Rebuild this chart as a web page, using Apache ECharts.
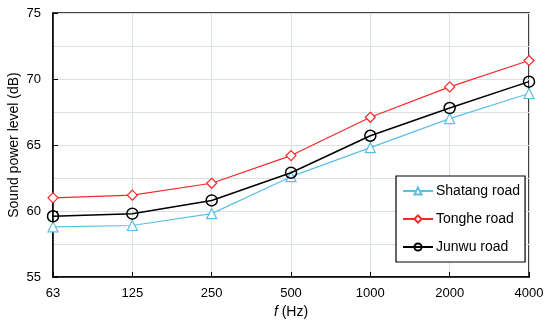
<!DOCTYPE html>
<html><head><meta charset="utf-8">
<script src="https://cdn.jsdelivr.net/npm/echarts@6/dist/echarts.min.js"></script>
<style>html,body{margin:0;padding:0;background:#fff}#c{width:550px;height:325px}</style>
</head><body><div id="c"></div>
<script>
const categories = ['63','125','250','500','1000','2000','4000'];
const shatang = [58.8, 58.9, 59.8, 62.6, 64.8, 67.0, 68.9];
const tonghe  = [61.0, 61.2, 62.1, 64.2, 67.1, 69.4, 71.4];
const junwu   = [59.6, 59.8, 60.8, 62.9, 65.7, 67.8, 69.8];
const yTicks = [55, 60, 65, 70, 75];

const font = 'Liberation Sans, Arial, sans-serif';
const chart = echarts.init(document.getElementById('c'), null, {renderer:'canvas'});
chart.setOption({
  animation:false,
  backgroundColor:'#fff',
  textStyle:{fontFamily:font},
  grid:{left:53,right:21,top:13,bottom:48,show:true,borderColor:'#000',borderWidth:1.5,
        backgroundColor:'transparent',containLabel:false,outerBoundsMode:'none'},
  legend:{
    orient:'vertical', left:396, top:176,
    backgroundColor:'#fff', borderColor:'#000', borderWidth:1.2,
    padding:[8,5,8,6], itemGap:14, itemWidth:30, itemHeight:9,
    textStyle:{fontSize:14,color:'#000',fontFamily:font,padding:[0,0,0,-2]},
    data:['Shatang road','Tonghe road','Junwu road']
  },
  xAxis:{
    type:'category', data:categories, boundaryGap:false,
    name:'{i|f} (Hz)', nameLocation:'middle', nameGap:28, nameMoveOverlap:false,
    nameTextStyle:{fontSize:14,color:'#000',fontFamily:font,rich:{i:{fontStyle:'italic',fontSize:14,fontFamily:font}}},
    axisLine:{lineStyle:{color:'#000',width:1.5}},
    axisTick:{inside:true,length:5,lineStyle:{color:'#000'}},
    axisLabel:{fontSize:13,color:'#000',margin:10},
    splitLine:{show:true,lineStyle:{color:'#d8e2e4',width:1}}
  },
  yAxis:{
    type:'value', min:yTicks[0], max:yTicks[yTicks.length-1], interval:5,
    name:'Sound power level (dB)', nameLocation:'middle', nameGap:32, nameMoveOverlap:false,
    nameTextStyle:{fontSize:14,color:'#000',fontFamily:font},
    axisLine:{show:true,lineStyle:{color:'#000',width:1.5}},
    axisTick:{show:true,inside:true,length:5,lineStyle:{color:'#000'}},
    axisLabel:{fontSize:13,color:'#000',margin:12},
    splitLine:{show:true,lineStyle:{color:'#d8e2e4',width:1}},
    minorTick:{show:false,splitNumber:2},
    minorSplitLine:{show:true,lineStyle:{color:'#d8e2e4',width:1}}
  },
  series:[
    {name:'Shatang road',type:'line',data:shatang,symbol:'triangle',symbolSize:10,
     itemStyle:{color:'#fff',borderColor:'#5bbfe6',borderWidth:1.2},
     lineStyle:{color:'#5bbfe6',width:1.2},z:3},
    {name:'Tonghe road',type:'line',data:tonghe,symbol:'diamond',symbolSize:10,
     itemStyle:{color:'#fff',borderColor:'#f22a2a',borderWidth:1.2},
     lineStyle:{color:'#f22a2a',width:1.2},z:4},
    {name:'Junwu road',type:'line',data:junwu,symbol:'circle',symbolSize:11,
     itemStyle:{color:'rgba(255,255,255,0)',borderColor:'#000',borderWidth:1.5},
     lineStyle:{color:'#000',width:1.5},z:5}
  ]
});
</script></body></html>
